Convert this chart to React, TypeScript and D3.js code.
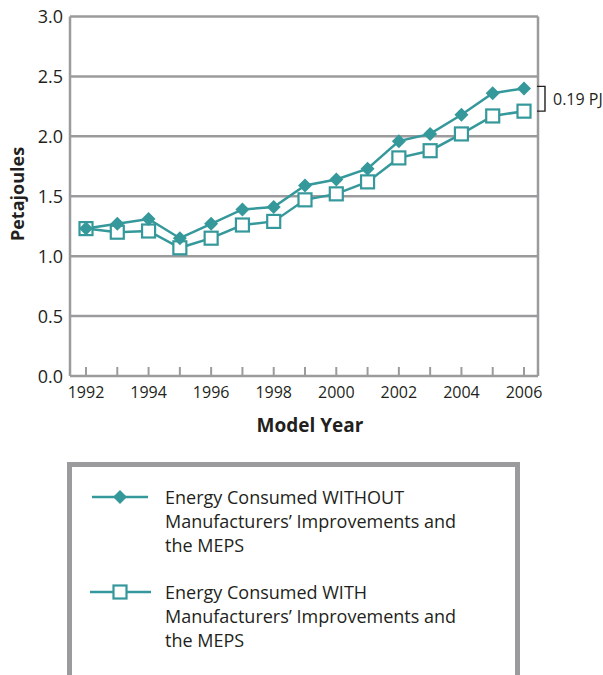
import React from "react";
import * as d3 from "d3";

const years = [1992, 1993, 1994, 1995, 1996, 1997, 1998, 1999, 2000, 2001, 2002, 2003, 2004, 2005, 2006];
const withoutValues = [1.23, 1.27, 1.31, 1.15, 1.27, 1.39, 1.41, 1.59, 1.64, 1.73, 1.96, 2.02, 2.18, 2.36, 2.40];
const withValues = [1.23, 1.20, 1.21, 1.07, 1.15, 1.26, 1.29, 1.47, 1.52, 1.62, 1.82, 1.88, 2.02, 2.17, 2.21];
const yTicks = [0, 0.5, 1.0, 1.5, 2.0, 2.5, 3.0];
const xTickLabels = [1992, 1994, 1996, 1998, 2000, 2002, 2004, 2006];
const legendWithout = ["Energy Consumed WITHOUT", "Manufacturers\u2019 Improvements and", "the MEPS"];
const legendWith = ["Energy Consumed WITH", "Manufacturers\u2019 Improvements and", "the MEPS"];
const diffLabel = "0.19 PJ";

const TEAL = "#35989b";
const GRID = "#9b9b9d";
const FONT = "'Open Sans', 'Noto Sans', sans-serif";
const TXT = "#231f20";

export default function App() {
  const left = 70, right = 538, top = 16.5, bottom = 376;
  const x = d3.scaleLinear().domain([1992, 2006]).range([86, 524]);
  const y = d3.scaleLinear().domain([0, 3]).range([bottom, top]);
  const line = d3.line<number>().x((_, i) => x(years[i])).y((d) => y(d));
  const lastIdx = years.length - 1;
  const bx = 545;
  const yTopB = y(withoutValues[lastIdx]) - 2;
  const yBotB = y(withValues[lastIdx]);

  const diamond = (cx: number, cy: number, r: number) =>
    `M${cx},${cy - r}L${cx + r},${cy}L${cx},${cy + r}L${cx - r},${cy}Z`;

  return (
    <svg width={603} height={675} style={{ position: "absolute", left: 0, top: 0, background: "#fff" }} fontFamily={FONT}>
      {/* gridlines */}
      {yTicks.map((t) => (
        <line key={t} x1={left} x2={right} y1={y(t)} y2={y(t)} stroke={GRID} strokeWidth={2.5} />
      ))}
      {/* frame */}
      <line x1={left} x2={left} y1={top} y2={bottom} stroke={GRID} strokeWidth={2.5} />
      <line x1={right} x2={right} y1={top} y2={bottom} stroke={GRID} strokeWidth={2.5} />
      {/* x ticks */}
      {years.map((yr) => (
        <line key={yr} x1={x(yr)} x2={x(yr)} y1={bottom} y2={bottom - 9} stroke={GRID} strokeWidth={2} />
      ))}
      {/* y tick labels */}
      {yTicks.map((t) => (
        <text key={t} x={63} y={y(t) + 6.5} textAnchor="end" fontSize={18} fill={TXT}>
          {t.toFixed(1)}
        </text>
      ))}
      {/* x tick labels */}
      {xTickLabels.map((t) => (
        <text key={t} x={x(t)} y={398} textAnchor="middle" fontSize={16} fill={TXT}>
          {t}
        </text>
      ))}
      {/* axis titles */}
      <text x={310} y={432} textAnchor="middle" fontSize={19} fontWeight="bold" fill={TXT}>Model Year</text>
      <text transform={`translate(24,194) rotate(-90)`} textAnchor="middle" fontSize={18} fontWeight="bold" fill={TXT}>Petajoules</text>

      {/* series */}
      <path d={line(withValues) || ""} fill="none" stroke={TEAL} strokeWidth={2.5} />
      <path d={line(withoutValues) || ""} fill="none" stroke={TEAL} strokeWidth={2.5} />
      {withValues.map((v, i) => (
        <rect key={"s" + i} x={x(years[i]) - 6.5} y={y(v) - 6.5} width={13} height={13} fill="#fff" stroke={TEAL} strokeWidth={2.2} />
      ))}
      {withoutValues.map((v, i) => (
        <path key={"d" + i} d={diamond(x(years[i]), y(v), 7)} fill={TEAL} />
      ))}

      {/* bracket */}
      <path d={`M537,${yTopB}H${bx}V${yBotB}H537`} fill="none" stroke={TXT} strokeWidth={1.4} />
      <text x={553} y={(yTopB + yBotB) / 2 + 6} fontSize={16} fill={TXT}>{diffLabel}</text>

      {/* legend box */}
      <rect x={69.5} y={464.5} width={448} height={230} fill="#fff" stroke={GRID} strokeWidth={5} />
      <line x1={92} x2={148} y1={497} y2={497} stroke={TEAL} strokeWidth={2.5} />
      <path d={diamond(120, 497, 7)} fill={TEAL} />
      {legendWithout.map((s, i) => (
        <text key={"lw" + i} x={165} y={504 + i * 24} fontSize={18} fill={TXT}>{s}</text>
      ))}
      <line x1={90} x2={151} y1={592} y2={592} stroke={TEAL} strokeWidth={2.5} />
      <rect x={113.5} y={585.5} width={13} height={13} fill="#fff" stroke={TEAL} strokeWidth={2.2} />
      {legendWith.map((s, i) => (
        <text key={"lh" + i} x={165} y={599 + i * 24} fontSize={18} fill={TXT}>{s}</text>
      ))}
    </svg>
  );
}
